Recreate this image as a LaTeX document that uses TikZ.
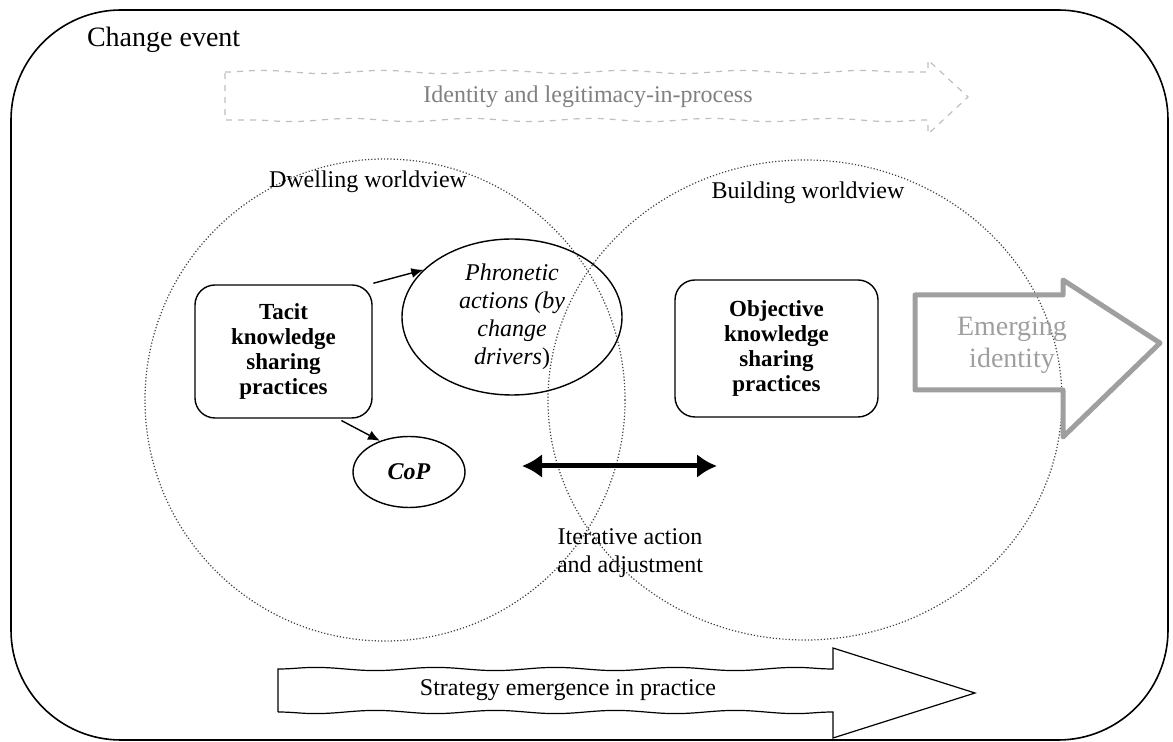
\documentclass[tikz,border=0pt]{standalone}
\usepackage{fontspec}
\setmainfont{Liberation Serif}
\usetikzlibrary{arrows.meta,shapes.geometric,decorations.pathmorphing}

\begin{document}
\begin{tikzpicture}[x=0.5pt, y=-0.5pt, font=\fontsize{12}{14}\selectfont,
    practice/.style={draw, line width=0.7pt, rounded corners=10pt, align=center, inner sep=0pt,
      font=\fontsize{11.5}{12.5}\selectfont\bfseries},
    bubble/.style={draw, ellipse, line width=0.7pt, inner sep=0pt, align=center},
    worldview/.style={draw=black!75, densely dotted, line width=0.6pt, ellipse, inner sep=0pt},
    link/.style={-{Latex[length=6pt,width=5pt]}, line width=0.7pt, shorten <=2pt},
    wave/.style={decoration={snake, segment length=60pt, amplitude=0.8pt}}]
    \useasboundingbox (0,0) rectangle (1173,742);

    % Frame
    \draw[line width=0.8pt, rounded corners=55pt] (11,10) rectangle (1168,740);
    \node[anchor=west, font=\fontsize{14}{16}\selectfont] (event) at (80,40) {Change event};

    % Background arrows
    \draw[gray!50, dashed, line width=0.6pt, wave] (225,72) decorate{-- (928,72)} -- (928,60) -- (968,97)
        -- (928,134) -- (928,120) decorate{-- (225,120)} -- cycle;
    \node[text=gray] (identity) at (588,97) {Identity and legitimacy-in-process};
    \draw[line width=0.6pt, wave] (278,669) decorate{-- (833,669)} -- (833,648) -- (975,693)
        -- (833,738) -- (833,712) decorate{-- (278,712)} -- cycle;
    \node (strategy) at (568,690) {Strategy emergence in practice};

    % Worldviews
    \node[worldview, minimum width=240pt, minimum height=241pt] (dwelling) at (385,400) {};
    \node[worldview, minimum width=257pt, minimum height=240pt] (building) at (805,400) {};
    \node (dwellinglabel) at (368,182) {Dwelling worldview};
    \node (buildinglabel) at (808,193) {Building worldview};

    % Practices
    \node[practice, minimum width=88.5pt, minimum height=66.5pt] (tacit) at (283.5,351.5)
        {Tacit\\knowledge\\sharing\\practices};
    \node[practice, minimum width=101.5pt, minimum height=68.5pt] (objective) at (776.5,348.5)
        {Objective\\knowledge\\sharing\\practices};
    \node[bubble, minimum width=110pt, minimum height=78pt, font=\fontsize{12}{14}\selectfont\itshape]
        (phronetic) at (512,317) {Phronetic\\actions (by\\change\\drivers\textup{)}};
    \node[bubble, minimum width=56pt, minimum height=35.5pt, font=\fontsize{12}{14}\selectfont\bfseries\itshape]
        (cop) at (409,472) {CoP};

    \draw[link] (tacit.38) -- (phronetic.152);
    \draw[link] (tacit.-51) -- (cop.133);

    % Iteration
    \coordinate (iterleft) at (522,466);
    \coordinate (iterright) at (717,466);
    \draw[{Latex[length=10pt,width=12pt]}-{Latex[length=10pt,width=12pt]}, line width=2.5pt] (iterleft) -- (iterright);
    \node[align=center] (iterative) at (630,553) {Iterative action\\and adjustment};

    % Emerging identity
    \draw[gray!75, line width=2.5pt, line join=round] (915,295) -- (1063,295) -- (1063,280) -- (1160,343)
        -- (1063,437) -- (1063,390) -- (915,390) -- cycle;
    \node[text=gray!75, align=center, font=\fontsize{14}{16}\selectfont] (emerging) at (1012,345) {Emerging\\identity};
\end{tikzpicture}
\end{document}
